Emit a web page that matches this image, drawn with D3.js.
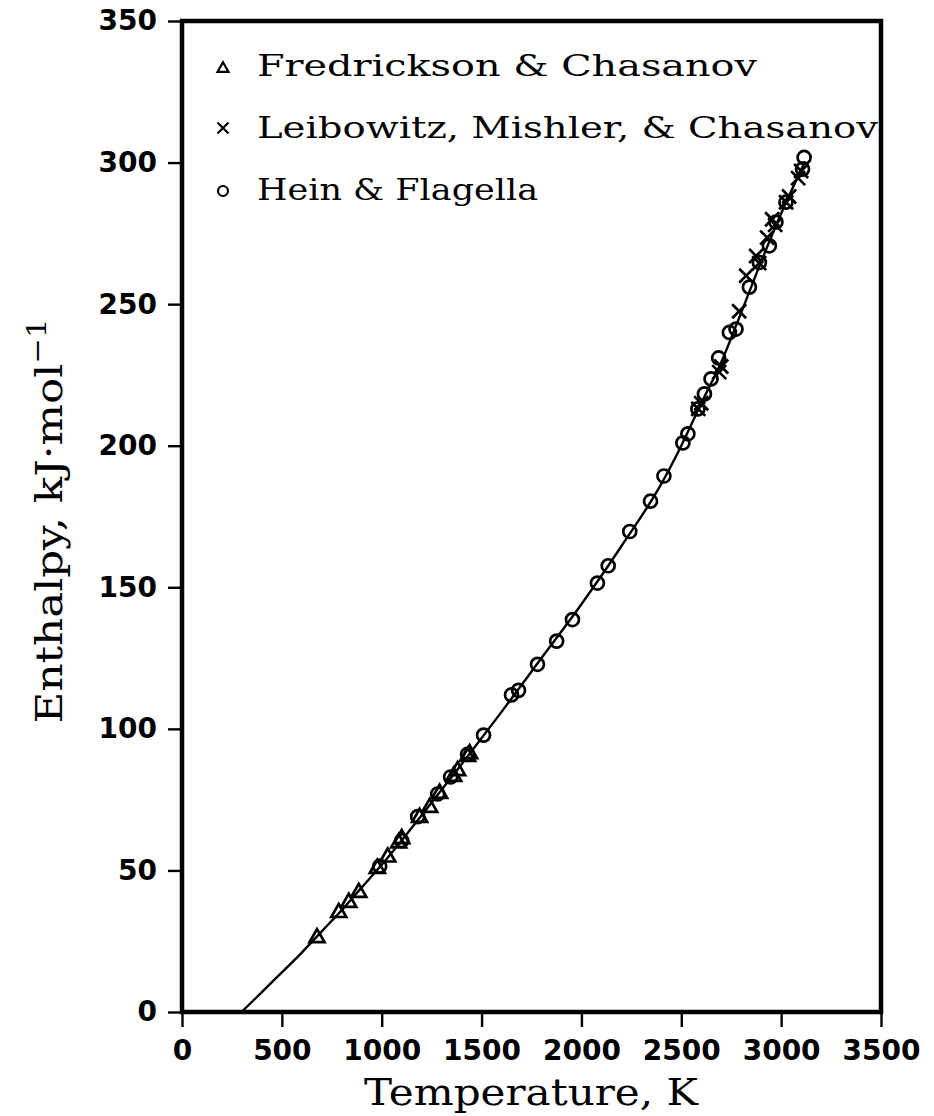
<!DOCTYPE html>
<html>
<head>
<meta charset="utf-8">
<script src="https://cdn.jsdelivr.net/npm/d3@7"></script>
<style>
  html, body { margin: 0; padding: 0; background: #fff; }
  svg { display: block; }
</style>
</head>
<body>
<svg id="chart" width="934" height="1116"></svg>
<script>
// Enthalpy increment H(T) - H(298 K), kJ/mol

const xTicks = [0, 500, 1000, 1500, 2000, 2500, 3000, 3500];
const yTicks = [0, 50, 100, 150, 200, 250, 300, 350];

// Fitted enthalpy curve (temperature K, enthalpy kJ/mol)
const curveT = [298, 400, 500, 600, 700, 800, 900, 1000, 1200, 1400, 1600, 1800, 2000, 2200, 2400, 2500, 2600, 2700, 2800, 2900, 3000, 3120];
const curveH = [0, 7, 14, 21, 28.5, 36, 44, 52, 69.5, 87.5, 106, 125, 144, 164.5, 186.5, 200, 215, 229.5, 247, 265, 282, 300.5];

// Fredrickson & Chasanov (triangles)
const fredT = [676, 785, 835, 885, 978, 1030, 1085, 1100, 1190, 1240, 1290, 1360, 1380, 1430, 1440];
const fredH = [26.5, 35.4, 39, 42.5, 51, 55, 60, 61.5, 69, 72.5, 77.5, 83.5, 85.5, 90.5, 91.5];

// Leibowitz, Mishler, & Chasanov (crosses)
const leibT = [2585, 2600, 2690, 2700, 2790, 2825, 2875, 2890, 2930, 2955, 2970, 3025, 3040, 3085, 3100];
const leibH = [213, 215, 226, 228, 247.5, 260, 267, 264.5, 273.5, 280, 278, 286, 288, 294.5, 297];

// Hein & Flagella (circles)
const heinT = [990, 1100, 1180, 1280, 1345, 1430, 1510, 1650, 1685, 1780, 1876, 1955, 2080, 2134, 2242, 2346, 2413, 2508, 2533, 2583, 2616, 2649, 2687, 2741, 2774, 2841, 2891, 2941, 2974, 3024, 3107, 3115];
const heinH = [51.5, 60.5, 69, 77, 83, 91, 97.8, 112, 113.6, 122.8, 131, 138.6, 151.5, 157.6, 169.7, 180.4, 189.3, 201, 204.2, 213, 218.3, 223.6, 231, 240, 241.2, 256, 264.7, 270.6, 279, 286, 297.7, 301.8];

const legendLabels = ["Fredrickson & Chasanov", "Leibowitz, Mishler, & Chasanov", "Hein & Flagella"];

const svg = d3.select("#chart");
const plotL = 182, plotR = 881, plotT = 21, plotB = 1012;

const x = d3.scaleLinear().domain([0, 3500]).range([plotL, plotR]);
const y = d3.scaleLinear().domain([0, 350]).range([plotB, plotT]);

const tickFont = "'DejaVu Sans', sans-serif";
const textFont = "'DejaVu Serif', serif";

// Axes
const xAxis = svg.append("g")
  .attr("transform", `translate(0,${plotB})`)
  .call(d3.axisBottom(x).tickValues(xTicks).tickSize(15).tickPadding(13).tickFormat(d3.format("d")));
const yAxis = svg.append("g")
  .attr("transform", `translate(${plotL},0)`)
  .call(d3.axisLeft(y).tickValues(yTicks).tickSize(14).tickPadding(11).tickFormat(d3.format("d")));

[xAxis, yAxis].forEach(g => {
  g.select(".domain").remove();
  g.selectAll(".tick line").attr("stroke", "#000").attr("stroke-width", 2.4);
  g.selectAll(".tick text")
    .attr("fill", "#000")
    .style("font-family", tickFont)
    .style("font-weight", "bold")
    .style("font-size", "28px");
});

// Plot frame
svg.append("rect")
  .attr("x", plotL).attr("y", plotT)
  .attr("width", plotR - plotL).attr("height", plotB - plotT)
  .attr("fill", "none").attr("stroke", "#000").attr("stroke-width", 4.5);

// Fitted curve
const curvePts = curveT.map((t, i) => [t, curveH[i]]);
svg.append("path")
  .datum(curvePts)
  .attr("fill", "none")
  .attr("stroke", "#000")
  .attr("stroke-width", 2.4)
  .attr("d", d3.line().x(d => x(d[0])).y(d => y(d[1])).curve(d3.curveMonotoneX));

// Marker shapes
function triPath(s) {
  const h = s * 0.87;
  return `M0,${-h * 0.6}L${s / 2},${h * 0.4}L${-s / 2},${h * 0.4}Z`;
}
function crossPath(s) {
  const r = s / 2;
  return `M${-r},${-r}L${r},${r}M${-r},${r}L${r},${-r}`;
}

const marks = svg.append("g").attr("fill", "none").attr("stroke", "#000").attr("stroke-width", 2.7);

marks.selectAll(".tri")
  .data(fredT.map((t, i) => [t, fredH[i]]))
  .join("path")
  .attr("class", "tri")
  .attr("transform", d => `translate(${x(d[0])},${y(d[1])})`)
  .attr("d", triPath(15));

marks.selectAll(".circ")
  .data(heinT.map((t, i) => [t, heinH[i]]))
  .join("circle")
  .attr("class", "circ")
  .attr("cx", d => x(d[0])).attr("cy", d => y(d[1]))
  .attr("r", 6.5);

marks.selectAll(".xm")
  .data(leibT.map((t, i) => [t, leibH[i]]))
  .join("path")
  .attr("class", "xm")
  .attr("transform", d => `translate(${x(d[0])},${y(d[1])})`)
  .attr("d", crossPath(14));

// Legend
const legend = svg.append("g");
const legendY = [76, 138, 200];
const legendW = [500, 621, 281];
legend.append("path").attr("transform", `translate(223,${legendY[0] - 8})`)
  .attr("d", triPath(11)).attr("fill", "none").attr("stroke", "#000").attr("stroke-width", 2.2);
legend.append("path").attr("transform", `translate(223,${legendY[1] - 10})`)
  .attr("d", crossPath(11)).attr("fill", "none").attr("stroke", "#000").attr("stroke-width", 2.2);
legend.append("circle").attr("cx", 223).attr("cy", legendY[2] - 9).attr("r", 5)
  .attr("fill", "none").attr("stroke", "#000").attr("stroke-width", 2.2);
legend.selectAll("text")
  .data(legendLabels)
  .join("text")
  .attr("x", 257)
  .attr("y", (d, i) => legendY[i])
  .attr("textLength", (d, i) => legendW[i])
  .attr("lengthAdjust", "spacingAndGlyphs")
  .style("font-family", textFont)
  .style("font-size", "30px")
  .text(d => d);

// Axis titles
svg.append("text")
  .attr("x", 531).attr("y", 1105)
  .attr("text-anchor", "middle")
  .attr("textLength", 334)
  .attr("lengthAdjust", "spacingAndGlyphs")
  .style("font-family", textFont)
  .style("font-size", "38px")
  .text("Temperature, K");

const yTitle = svg.append("text")
  .attr("transform", "translate(62,521) rotate(-90)")
  .attr("text-anchor", "middle")
  .attr("textLength", 405)
  .attr("lengthAdjust", "spacingAndGlyphs")
  .style("font-family", textFont)
  .style("font-size", "37px");
yTitle.append("tspan").text("Enthalpy, kJ\u00B7mol");
yTitle.append("tspan").attr("dy", -16).style("font-size", "26px").text("\u22121");
</script>
</body>
</html>
